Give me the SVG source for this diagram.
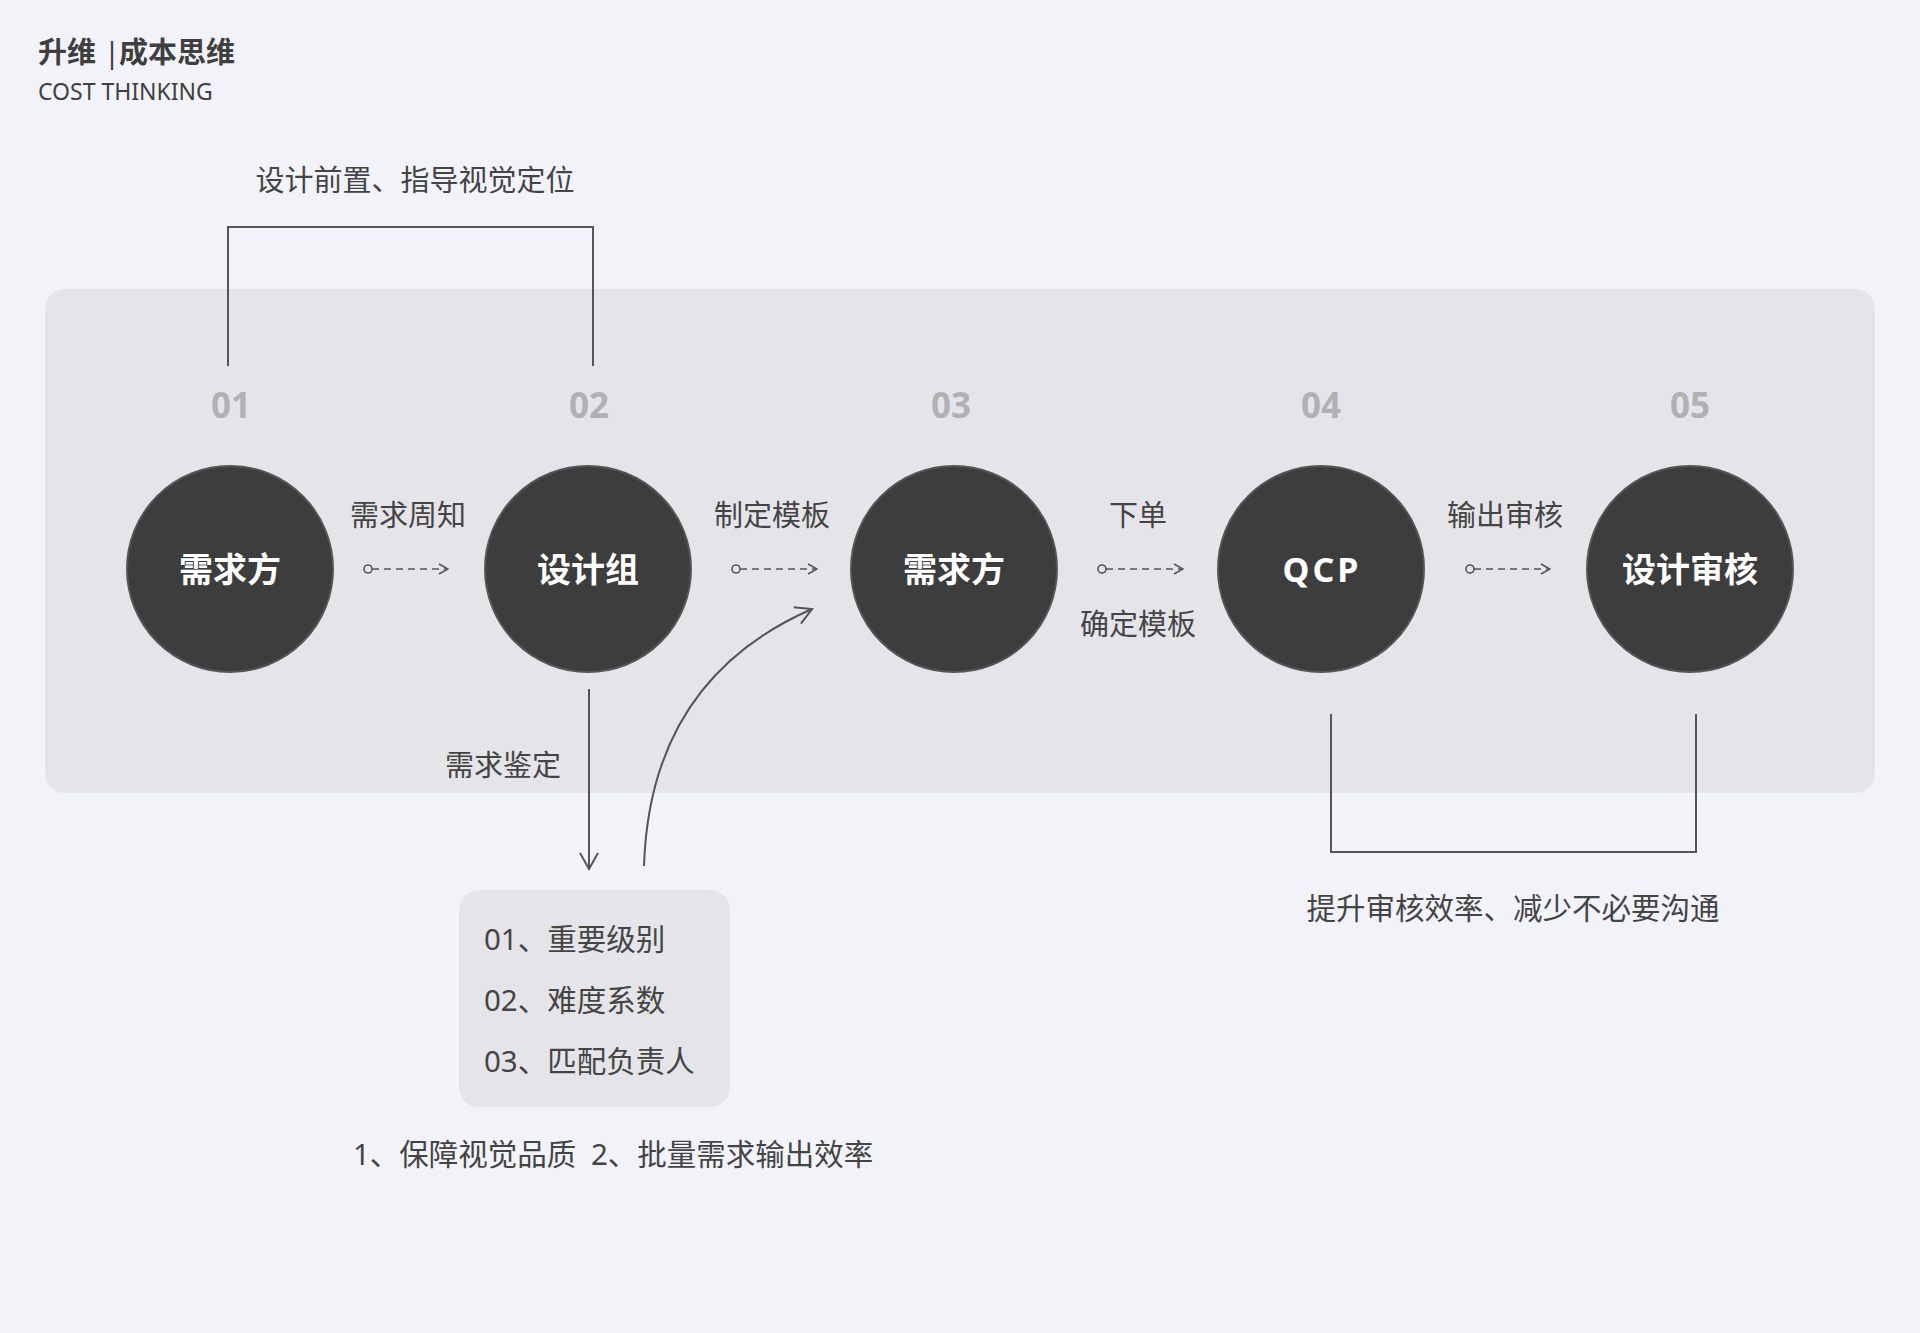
<svg xmlns="http://www.w3.org/2000/svg" width="1920" height="1333" viewBox="0 0 1920 1333">
<style>
text{font-family:"Noto Sans","Noto Sans CJK SC",sans-serif;}
.lbl{font-size:29px;fill:#444;text-anchor:middle;dominant-baseline:central;}
.num{font-size:35px;font-weight:700;fill:#b1b1b3;text-anchor:middle;dominant-baseline:central;}
.node circle{fill:#3d3d3d;stroke:#555;stroke-width:2;}
.node text{font-size:34px;font-weight:700;fill:#fff;text-anchor:middle;dominant-baseline:central;}
.ln{fill:none;stroke:#555;stroke-width:2;}
.dash{fill:none;stroke:#555;stroke-width:1.6;stroke-dasharray:7 5;}
.dot{fill:none;stroke:#555;stroke-width:1.6;}
.item{font-size:29.5px;fill:#444;dominant-baseline:central;}
</style>
<defs>
<marker id="chev" viewBox="0 0 12 12" refX="11" refY="6" markerWidth="12" markerHeight="12" markerUnits="userSpaceOnUse" orient="auto">
<path d="M2,1 L11,6 L2,11" fill="none" stroke="#555" stroke-width="1.6"/>
</marker>
<marker id="chevL" viewBox="0 0 20 20" refX="18" refY="10" markerWidth="20" markerHeight="20" markerUnits="userSpaceOnUse" orient="auto">
<path d="M2,1 L18,10 L2,19" fill="none" stroke="#555" stroke-width="2"/>
</marker>
</defs>
<rect width="1920" height="1333" fill="#f2f3f8"/>
<text y="63" style="font-size:29px;font-weight:700;fill:#3f3f3f;"><tspan x="38">升维</tspan><tspan x="104" style="font-weight:400">|</tspan><tspan x="119">成本思维</tspan></text>
<text x="38" y="100" style="font-size:23px;fill:#3f3f3f;">COST THINKING</text>
<rect x="45" y="289" width="1830" height="504" rx="20" fill="#e5e4e9"/>
<text class="lbl" x="415" y="179">设计前置、指导视觉定位</text>
<text class="lbl" x="1513" y="907" style="font-size:29.5px">提升审核效率、减少不必要沟通</text>
<text class="num" x="231" y="404">01</text>
<text class="num" x="589" y="404">02</text>
<text class="num" x="951" y="404">03</text>
<text class="num" x="1321" y="404">04</text>
<text class="num" x="1690" y="404">05</text>
<g id="connectors">
<path class="ln" d="M228,366 V227 H593 V366"/>
<path class="ln" d="M1331,714 V852 H1696 V714"/>
<circle class="dot" cx="368" cy="569" r="4"/>
<path class="dash" d="M372,569 H448" marker-end="url(#chev)"/>
<circle class="dot" cx="736" cy="569" r="4"/>
<path class="dash" d="M740,569 H817" marker-end="url(#chev)"/>
<circle class="dot" cx="1102" cy="569" r="4"/>
<path class="dash" d="M1106,569 H1183" marker-end="url(#chev)"/>
<circle class="dot" cx="1470" cy="569" r="4"/>
<path class="dash" d="M1474,569 H1550" marker-end="url(#chev)"/>
<path class="ln" d="M589,689 V869" marker-end="url(#chevL)"/>
<path class="ln" d="M644,866 Q650,680 812,609" marker-end="url(#chevL)"/>
</g>
<text class="lbl" x="408" y="514">需求周知</text>
<text class="lbl" x="772" y="514">制定模板</text>
<text class="lbl" x="1138" y="514">下单</text>
<text class="lbl" x="1138" y="623">确定模板</text>
<text class="lbl" x="1505" y="514">输出审核</text>
<text class="lbl" x="503" y="764">需求鉴定</text>
<g id="node1" class="node"><circle cx="230" cy="569" r="103"/><text x="230" y="569">需求方</text></g>
<g id="node2" class="node"><circle cx="588" cy="569" r="103"/><text x="588" y="569">设计组</text></g>
<g id="node3" class="node"><circle cx="954" cy="569" r="103"/><text x="954" y="569">需求方</text></g>
<g id="node4" class="node"><circle cx="1321" cy="569" r="103"/><text x="1322" y="569" style="letter-spacing:3px">QCP</text></g>
<g id="node5" class="node"><circle cx="1690" cy="569" r="103"/><text x="1690" y="569">设计审核</text></g>
<g id="box">
<rect x="459" y="890" width="271" height="217" rx="20" fill="#e5e4e9"/>
<text class="item" x="484" y="938">01、重要级别</text>
<text class="item" x="484" y="999">02、难度系数</text>
<text class="item" x="484" y="1060">03、匹配负责人</text>
</g>
<text class="item" x="353" y="1153">1、保障视觉品质</text>
<text class="item" x="591" y="1153">2、批量需求输出效率</text>
</svg>
